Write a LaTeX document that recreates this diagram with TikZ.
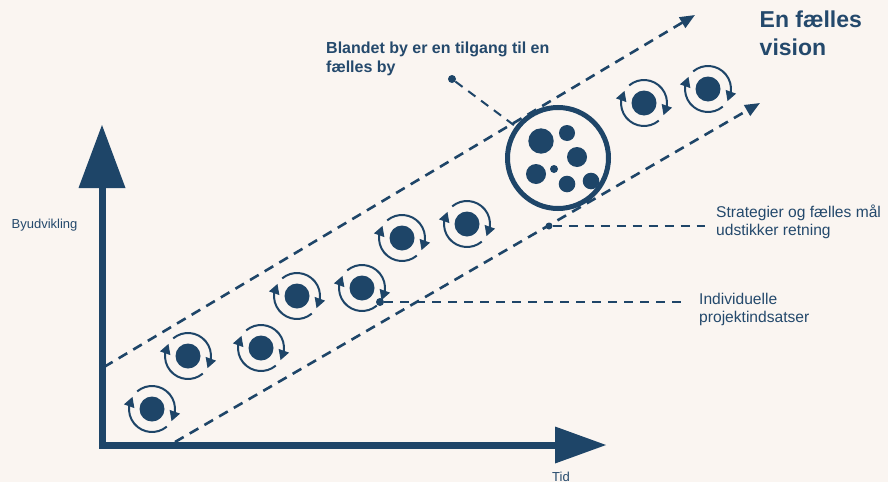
\documentclass[tikz,border=0pt]{standalone}
\usepackage{fontspec}
\setmainfont{Liberation Sans}
\usetikzlibrary{arrows.meta,bending}
\definecolor{dblue}{HTML}{1E4568}
\definecolor{tblue}{HTML}{24496C}
\definecolor{bgc}{HTML}{FAF5F1}
\newcommand{\twoln}[2]{\begin{tabular}[t]{@{}l@{}}#1\\#2\end{tabular}}
\begin{document}
\begin{tikzpicture}[x=1pt,y=-1pt,
  mainline/.style={dblue, line width=2.6pt, dash pattern=on 10pt off 7pt, -{Triangle[length=15pt,width=12pt]}},
  leader/.style={dblue, line width=2pt, dash pattern=on 9pt off 7pt},
  ldot/.style={circle, fill=dblue, inner sep=0pt, minimum size=8pt},
  cycarc/.style={dblue, line width=2pt, -{Triangle[length=10pt,width=10.5pt,flex]}},
  lbl/.style={text=tblue, inner sep=0pt, anchor=base west},
  cyc/.pic={
    \fill[dblue] (0,0) circle (12.5);
    \draw[cycarc] (-130:23) arc[start angle=-130, end angle=32, radius=23];
    \draw[cycarc] (50:23) arc[start angle=50, end angle=212, radius=23];
  }]
\fill[bgc] (0,0) rectangle (888,482);
\useasboundingbox (0,0) rectangle (888,482);

% axes
\draw[dblue, line width=7pt, line join=miter] (102,188) -- (102,445) -- (555,445);
\fill[dblue] (102,125) -- (78.5,188) -- (125.5,188) -- cycle;
\fill[dblue] (606,445) -- (555,426.5) -- (555,463.5) -- cycle;

% main dashed lines
\coordinate (u1) at (104,367);
\coordinate (u2) at (695,15);
\coordinate (l1) at (175,442);
\coordinate (l2) at (760,103);
\draw[mainline] (u1) -- (u2);
\draw[mainline] (l1) -- (l2);

% cycles
\foreach \p in {(152,409),(188,356),(261,348),(297,296),(362,288),(402,238),(467,224),(644,103),(708,89)}
  \pic at \p {cyc};

% big circle
\node[circle, draw=dblue, line width=5pt, minimum size=101pt, inner sep=0pt] (bigc) at (558,158) {};
\fill[dblue] (541,141) circle (12.7);
\fill[dblue] (567,133) circle (8);
\fill[dblue] (577,157) circle (10);
\fill[dblue] (536,174) circle (10);
\fill[dblue] (554,169) circle (4);
\fill[dblue] (567,184) circle (8.3);
\fill[dblue] (591,181) circle (8.3);

% labels
\node[lbl, font=\fontsize{16}{19}\selectfont\bfseries] (blandet) at (326,53) {\twoln{Blandet by er en tilgang til en}{fælles by}};
\node[lbl, font=\fontsize{23}{28}\selectfont\bfseries] (vision) at (759.5,27) {\twoln{En fælles}{vision}};
\node[lbl, font=\fontsize{15.6}{18.5}\selectfont] (strat) at (716,217) {\twoln{Strategier og fælles mål}{udstikker retning}};
\node[lbl, font=\fontsize{15.6}{18.5}\selectfont] (indiv) at (699,304) {\twoln{Individuelle}{projektindsatser}};
\node[lbl, font=\fontsize{13}{15}\selectfont] (byud) at (11.5,228) {Byudvikling};
\node[lbl, font=\fontsize{13}{15}\selectfont] (tid) at (552,481) {Tid};

% leaders
\node[ldot] (dB) at (452,79) {};
\draw[leader] (dB) -- (bigc);
\node[ldot, minimum size=7pt] (dS) at (549,226) {};
\coordinate (eS) at (705,226);
\draw[leader] (dS) -- (eS);
\node[ldot] (dI) at (380,302) {};
\coordinate (eI) at (686,302);
\draw[leader] (dI) -- (eI);
\end{tikzpicture}
\end{document}
